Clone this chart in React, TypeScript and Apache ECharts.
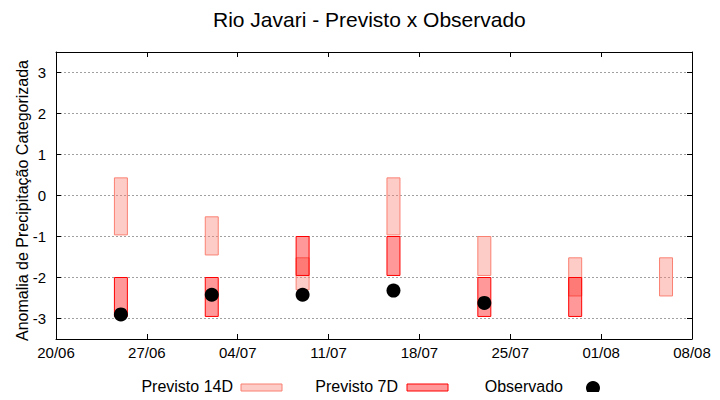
import React, { useEffect, useRef } from "react";
import * as echarts from "echarts";

const startDate = "20/06";
const xTickLabels = ["20/06", "27/06", "04/07", "11/07", "18/07", "25/07", "01/08", "08/08"];
const yTicks = [-3, -2, -1, 0, 1, 2, 3];

const forecastDates = ["25/06", "02/07", "09/07", "16/07", "23/07", "30/07", "06/08"];
const prev14Top = [0.43, -0.52, -1.52, 0.43, -1.0, -1.52, -1.52];
const prev14Bottom = [-0.96, -1.45, -2.3, -0.96, -1.95, -2.45, -2.45];
const prev7Dates = ["25/06", "02/07", "09/07", "16/07", "23/07", "30/07"];
const prev7Top = [-2.0, -2.0, -1.0, -1.0, -2.0, -2.0];
const prev7Bottom = [-2.95, -2.95, -1.95, -1.95, -2.95, -2.95];
const obsDates = ["25/06", "02/07", "09/07", "16/07", "23/07"];
const obsValues = [-2.9, -2.42, -2.42, -2.32, -2.62];

const FONT = "Liberation Sans, Arial, sans-serif";

function dayOffset(s: string): number {
  const [d, m] = s.split("/").map(Number);
  const [d0, m0] = startDate.split("/").map(Number);
  return (Date.UTC(2024, m - 1, d) - Date.UTC(2024, m0 - 1, d0)) / 86400000;
}

function boxRenderer(fill: string, stroke: string) {
  return (params: any, api: any) => {
    const x = api.value(0);
    const hi = api.value(1);
    const lo = api.value(2);
    const p1 = api.coord([x - 0.5, hi]);
    const p2 = api.coord([x + 0.5, lo]);
    return {
      type: "rect",
      shape: { x: p1[0], y: p1[1], width: p2[0] - p1[0], height: p2[1] - p1[1] },
      style: { fill, stroke, lineWidth: 1 },
    };
  };
}

export default function App() {
  const ref = useRef<HTMLDivElement>(null);
  useEffect(() => {
    if (!ref.current) return;
    const chart = echarts.init(ref.current, null, { renderer: "svg" });
    const xMax = dayOffset(xTickLabels[xTickLabels.length - 1]);
    const fill14 = "rgba(250,128,114,0.4)";
    const stroke14 = "#fa8072";
    const fill7 = "rgba(255,0,0,0.4)";
    const stroke7 = "#ff0000";
    const xCommon = {
      type: "value",
      min: 0,
      max: xMax,
      interval: 7,
      z: 5,
      axisLine: { show: true, onZero: false, lineStyle: { color: "#000", width: 1 } },
      axisTick: { show: true, inside: true, length: 5, lineStyle: { color: "#000" } },
      splitLine: { show: false },
    };
    const yCommon = {
      type: "value",
      min: -3.5,
      max: 3.5,
      minInterval: 1,
      maxInterval: 1,
      z: 2,
      axisLine: { show: true, onZero: false, lineStyle: { color: "#000", width: 1 } },
      axisTick: { show: true, inside: true, length: 5, lineStyle: { color: "#000" } },
    };
    chart.setOption({
      animation: false,
      backgroundColor: "#fff",
      title: {
        text: "Rio Javari - Previsto x Observado",
        left: 213,
        top: 9,
        padding: 0,
        textStyle: { fontFamily: FONT, fontSize: 21, fontWeight: "normal", color: "#000" },
      },
      grid: { left: 56, right: 28, top: 52, bottom: 61 },
      xAxis: [
        {
          ...xCommon,
          position: "bottom",
          axisLabel: {
            margin: 6,
            fontFamily: FONT,
            fontSize: 15,
            color: "#000",
            formatter: (v: number) => xTickLabels[Math.round(v / 7)] ?? "",
          },
        },
        { ...xCommon, position: "top", axisLabel: { show: false } },
      ],
      yAxis: [
        {
          ...yCommon,
          position: "left",
          name: "Anomalia de Precipitação Categorizada",
          nameLocation: "middle",
          nameGap: 26,
          nameMoveOverlap: false,
          nameRotate: 90,
          nameTextStyle: { fontFamily: FONT, fontSize: 16, color: "#000", padding: [0, 10, 0, 0] },
          axisLabel: {
            margin: 10,
            showMinLabel: false,
            showMaxLabel: false,
            fontFamily: FONT,
            fontSize: 15,
            color: "#000",
            formatter: (v: number) => (yTicks.includes(v) ? String(v) : ""),
          },
          splitLine: { show: true, lineStyle: { color: "#a0a0a0", width: 1, type: [2, 2] } },
        },
        { ...yCommon, position: "right", axisLabel: { show: false }, splitLine: { show: false } },
      ],
      series: [
        {
          name: "Previsto 14D",
          type: "custom",
          renderItem: boxRenderer(fill14, stroke14),
          encode: { x: 0, y: [1, 2] },
          data: forecastDates.map((d, i) => [dayOffset(d), prev14Top[i], prev14Bottom[i]]),
          z: 3,
        },
        {
          name: "Previsto 7D",
          type: "custom",
          renderItem: boxRenderer(fill7, stroke7),
          encode: { x: 0, y: [1, 2] },
          data: prev7Dates.map((d, i) => [dayOffset(d), prev7Top[i], prev7Bottom[i]]),
          z: 4,
        },
        {
          name: "Observado",
          type: "scatter",
          symbol: "circle",
          symbolSize: 14,
          itemStyle: { color: "#000", opacity: 1 },
          data: obsDates.map((d, i) => [dayOffset(d), obsValues[i]]),
          z: 6,
        },
      ],
      graphic: [
        {
          type: "text",
          x: 233,
          y: 386,
          style: { text: "Previsto 14D", fontFamily: FONT, fontSize: 16, fill: "#000", textAlign: "right", textVerticalAlign: "middle" },
        },
        { type: "rect", shape: { x: 241, y: 384, width: 41, height: 7 }, style: { fill: fill14, stroke: stroke14, lineWidth: 1 } },
        {
          type: "text",
          x: 398,
          y: 386,
          style: { text: "Previsto 7D", fontFamily: FONT, fontSize: 16, fill: "#000", textAlign: "right", textVerticalAlign: "middle" },
        },
        { type: "rect", shape: { x: 407, y: 384, width: 41, height: 7 }, style: { fill: fill7, stroke: stroke7, lineWidth: 1 } },
        {
          type: "text",
          x: 563,
          y: 386,
          style: { text: "Observado", fontFamily: FONT, fontSize: 16, fill: "#000", textAlign: "right", textVerticalAlign: "middle" },
        },
        { type: "circle", shape: { cx: 593, cy: 388, r: 7 }, style: { fill: "#000" } },
      ],
    });
    return () => chart.dispose();
  }, []);
  return <div ref={ref} style={{ width: 720, height: 400, margin: -8 }} />;
}
